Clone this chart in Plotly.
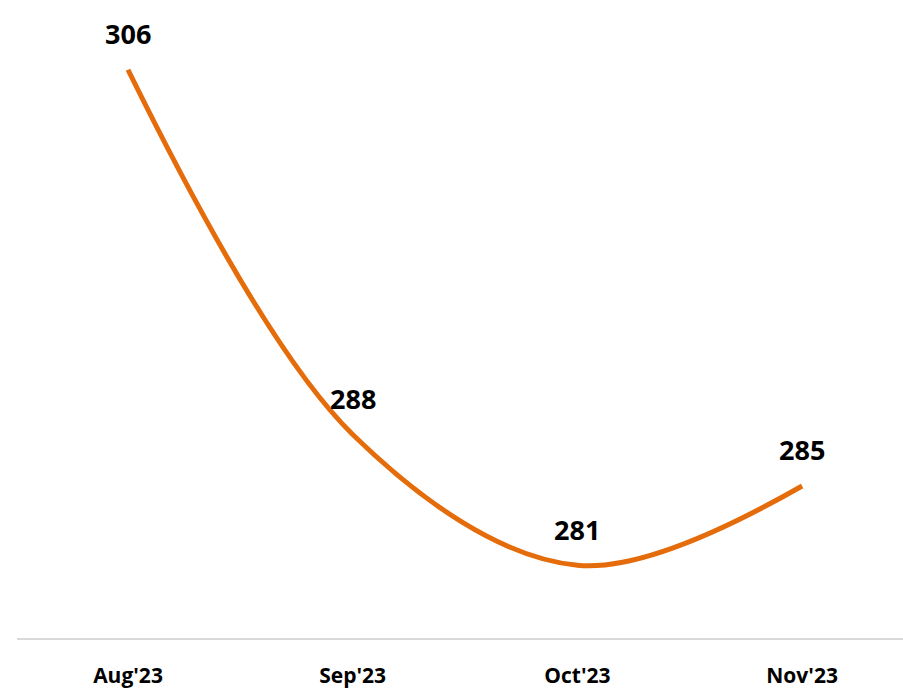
import plotly.graph_objects as go

months = ["Aug'23", "Sep'23", "Oct'23", "Nov'23"]
values = [306, 287.6, 281, 285]
labels = ["306", "288", "281", "285"]

xs = list(range(len(months)))

fig = go.Figure()
fig.add_trace(go.Scatter(
    x=xs, y=values, mode="lines",
    line=dict(color="#E46C0A", width=5, shape="spline", smoothing=1.0),
    hoverinfo="skip", showlegend=False,
))

for x, v, t in zip(xs, values, labels):
    fig.add_annotation(x=x, y=v, text=t, showarrow=False, yshift=36,
                       font=dict(family="Open Sans", size=27, color="#000000", weight="bold"))

fig.update_layout(
    width=903, height=689,
    margin=dict(l=17, r=0, t=0, b=49),
    plot_bgcolor="white", paper_bgcolor="white",
    xaxis=dict(
        range=[-0.494, 3.449], tickvals=xs, ticktext=months,
        showgrid=False, zeroline=False, showline=True,
        linecolor="#D9D9D9", linewidth=2,
        ticks="", ticklabelstandoff=18,
        tickfont=dict(family="Open Sans", size=21, color="#000000", weight="bold"),
        fixedrange=True,
    ),
    yaxis=dict(
        range=[277.33, 309.52], visible=False, showgrid=False, zeroline=False,
        fixedrange=True,
    ),
)

fig.write_html("out.html", config={"displayModeBar": False},
               post_script="document.body.style.margin='0';document.body.style.overflow='hidden';")
